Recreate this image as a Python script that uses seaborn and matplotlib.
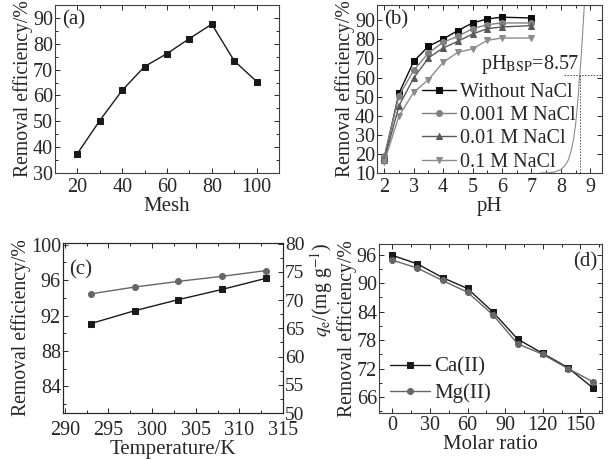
import numpy as np
import pandas as pd
import seaborn as sns
import matplotlib.pyplot as plt
from matplotlib.ticker import MultipleLocator

# (a) mesh size
mesh = [20, 30, 40, 50, 60, 70, 80, 90, 100]
eff_mesh = [37.5, 50.3, 62.0, 71.2, 76.2, 82.0, 87.6, 73.4, 65.4]

# (b) pH with different NaCl
ph = [2, 2.5, 3, 3.5, 4, 4.5, 5, 5.5, 6, 7]
eff_none = [18.0, 51.9, 68.5, 76.4, 80.2, 84.6, 88.6, 90.7, 91.6, 91.2]
eff_0001 = [19.0, 50.5, 63.8, 72.9, 78.5, 81.6, 85.6, 87.7, 88.6, 88.6]
eff_001 = [17.0, 45.3, 59.8, 70.3, 75.5, 79.0, 82.8, 85.6, 86.5, 87.2]
eff_01 = [16.0, 40.0, 52.3, 58.9, 68.0, 73.2, 75.0, 79.5, 80.7, 80.7]
# titration-like curve for pH_BSP
ph_curve = [7.3, 7.6, 7.8, 8.0, 8.15, 8.26, 8.35, 8.43, 8.5, 8.55, 8.6, 8.63, 8.68, 8.72, 8.76, 8.8]
y_curve = [10.0, 10.1, 10.6, 11.8, 14.0, 17.0, 21.5, 27.5, 35.0, 43.0, 52.0, 59.0, 68.5, 78.0, 88.0, 98.0]
ph_bsp_x = 8.66
ph_bsp_y = 61.4

# (c) temperature
temp = [293, 298, 303, 308, 313]
eff_temp = [91.1, 92.55, 93.8, 94.95, 96.2]
qe_temp = [71.1, 72.3, 73.3, 74.2, 75.2]

# (d) molar ratio
ratio = [0, 20, 40, 60, 80, 100, 120, 140, 160]
eff_ca = [95.9, 94.1, 91.2, 88.9, 84.0, 78.2, 75.2, 72.2, 67.9]
eff_mg = [94.9, 93.2, 90.6, 88.1, 83.4, 77.2, 75.0, 72.0, 69.2]

sns.set_theme(style="ticks")
plt.rcParams['font.family'] = ['Liberation Serif', 'DejaVu Serif']
plt.rcParams['mathtext.fontset'] = 'stix'
plt.rcParams['font.size'] = 14
plt.rcParams['axes.linewidth'] = 0.8

W, H = 611, 459
fig = plt.figure(figsize=(W / 100, H / 100), dpi=100)


def box(l, t, r, b):
    return [l / W, 1 - b / H, (r - l) / W, (b - t) / H]


def style(ax, right=True, xpad=3.5):
    ax.tick_params(which='both', direction='in', top=True, right=right,
                   labelsize=14.5, pad=1.5, width=0.7)
    ax.tick_params(axis='x', which='both', pad=xpad)
    ax.tick_params(which='major', length=3.5)
    ax.tick_params(which='minor', length=2)
    for s in ax.spines.values():
        s.set_color('0.25')


ms = 4.3
lab_fs = 14.2

# ---- (a)
ax = fig.add_axes(box(55, 5, 279, 173))
sns.lineplot(x=mesh, y=eff_mesh, ax=ax, color='k', marker='s', markersize=ms,
             markeredgecolor='k', linewidth=1)
ax.set_xlim(10, 110)
ax.set_ylim(30, 95)
ax.xaxis.set_major_locator(MultipleLocator(20))
ax.xaxis.set_minor_locator(MultipleLocator(10))
ax.yaxis.set_major_locator(MultipleLocator(10))
ax.yaxis.set_minor_locator(MultipleLocator(5))
ax.set_xlabel('Mesh', fontsize=15, labelpad=0)
ax.set_ylabel('Removal efficiency/%', fontsize=lab_fs, labelpad=0)
ax.text(0.03, 0.97, '(a)', transform=ax.transAxes, ha='left', va='top', fontsize=15)
style(ax)

# ---- (b)
ax = fig.add_axes(box(377, 5, 602, 173))
series_b = [
    (eff_none, 'Without NaCl', 's', '0.05'),
    (eff_0001, '0.001 M NaCl', 'o', '0.5'),
    (eff_001, '0.01 M NaCl', '^', '0.35'),
    (eff_01, '0.1 M NaCl', 'v', '0.55'),
]
for vals, lab, mk, c in series_b:
    sns.lineplot(x=ph, y=vals, ax=ax, color=c, marker=mk, markersize=ms,
                 markeredgecolor=c, linewidth=1, label=lab)
sns.lineplot(x=ph_curve, y=y_curve, ax=ax, color='0.55', linewidth=0.8, legend=False)
ax.plot([8.1, 9.4], [ph_bsp_y, ph_bsp_y], ls=(0, (1.5, 1.5)), color='0.3', lw=0.7)
ax.plot([ph_bsp_x, ph_bsp_x], [10, ph_bsp_y], ls=(0, (1.5, 1.5)), color='0.3', lw=0.7)
ax.text(8.6, 64.5, r'pH$_\mathrm{BSP}$=8.57', ha='right', va='baseline', fontsize=14.5)
ax.set_xlim(1.75, 9.4)
ax.set_ylim(10, 98)
ax.xaxis.set_major_locator(MultipleLocator(1))
ax.xaxis.set_minor_locator(MultipleLocator(0.5))
ax.yaxis.set_major_locator(MultipleLocator(10))
ax.set_xlabel('pH', fontsize=15, labelpad=0)
ax.set_ylabel('Removal efficiency/%', fontsize=lab_fs, labelpad=0)
ax.text(0.03, 0.97, '(b)', transform=ax.transAxes, ha='left', va='top', fontsize=15)
ax.legend(loc='upper left', bbox_to_anchor=(0.2, 0.535), frameon=False, borderaxespad=0,
          borderpad=0, handlelength=1.7, handletextpad=0.2, labelspacing=0.2, fontsize=14.5)
style(ax)

# ---- (c)
ax = fig.add_axes(box(63, 243, 283, 413))
sns.lineplot(x=temp, y=eff_temp, ax=ax, color='k', marker='s', markersize=ms,
             markeredgecolor='k', linewidth=1)
ax.set_xlim(289.8, 315)
ax.set_ylim(81, 100.2)
ax.xaxis.set_major_locator(MultipleLocator(5))
ax.xaxis.set_minor_locator(MultipleLocator(2.5))
ax.yaxis.set_major_locator(MultipleLocator(4))
ax.yaxis.set_minor_locator(MultipleLocator(2))
ax.set_xlabel('Temperature/K', fontsize=15, labelpad=0)
ax.set_ylabel('Removal efficiency/%', fontsize=lab_fs, labelpad=0)
ax.text(0.03, 0.9, '(c)', transform=ax.transAxes, ha='left', va='top', fontsize=15)
style(ax, right=False, xpad=6)
ax2 = ax.twinx()
sns.lineplot(x=temp, y=qe_temp, ax=ax2, color='0.4', marker='o', markersize=ms,
             markeredgecolor='0.4', linewidth=1)
ax2.set_ylim(50, 80.1)
ax2.yaxis.set_major_locator(MultipleLocator(5))
ax2.yaxis.set_minor_locator(MultipleLocator(2.5))
ax2.set_ylabel('')
ax2.tick_params(which='both', direction='in', labelsize=14, pad=1.5, width=0.7)
ax2.tick_params(which='major', length=3.5)
ax2.tick_params(which='minor', length=2)
fig.text(322 / W, 1 - 290 / H, r'$q_\mathrm{e}$/(mg g$^{-1}$)', rotation=90,
         ha='center', va='center', fontsize=lab_fs)

# ---- (d)
ax = fig.add_axes(box(379, 244, 602, 413))
sns.lineplot(x=ratio, y=eff_ca, ax=ax, color='k', marker='s', markersize=ms,
             markeredgecolor='k', linewidth=1, label='Ca(II)')
sns.lineplot(x=ratio, y=eff_mg, ax=ax, color='0.4', marker='o', markersize=ms,
             markeredgecolor='0.4', linewidth=1, label='Mg(II)')
ax.set_xlim(-10.7, 167.3)
ax.set_ylim(62.6, 98.3)
ax.xaxis.set_major_locator(MultipleLocator(30))
ax.xaxis.set_minor_locator(MultipleLocator(15))
ax.yaxis.set_major_locator(MultipleLocator(6))
ax.yaxis.set_minor_locator(MultipleLocator(3))
ax.set_xlabel('Molar ratio', fontsize=15, labelpad=0)
ax.set_ylabel('Removal efficiency/%', fontsize=lab_fs, labelpad=0)
ax.text(0.98, 0.95, '(d)', transform=ax.transAxes, ha='right', va='top', fontsize=15)
ax.legend(loc='upper left', bbox_to_anchor=(0.05, 0.33), frameon=False, borderaxespad=0,
          borderpad=0, handlelength=1.9, handletextpad=0.2, labelspacing=0.3, fontsize=15)
style(ax, xpad=2.5)

fig.savefig('out.png', dpi=100)
